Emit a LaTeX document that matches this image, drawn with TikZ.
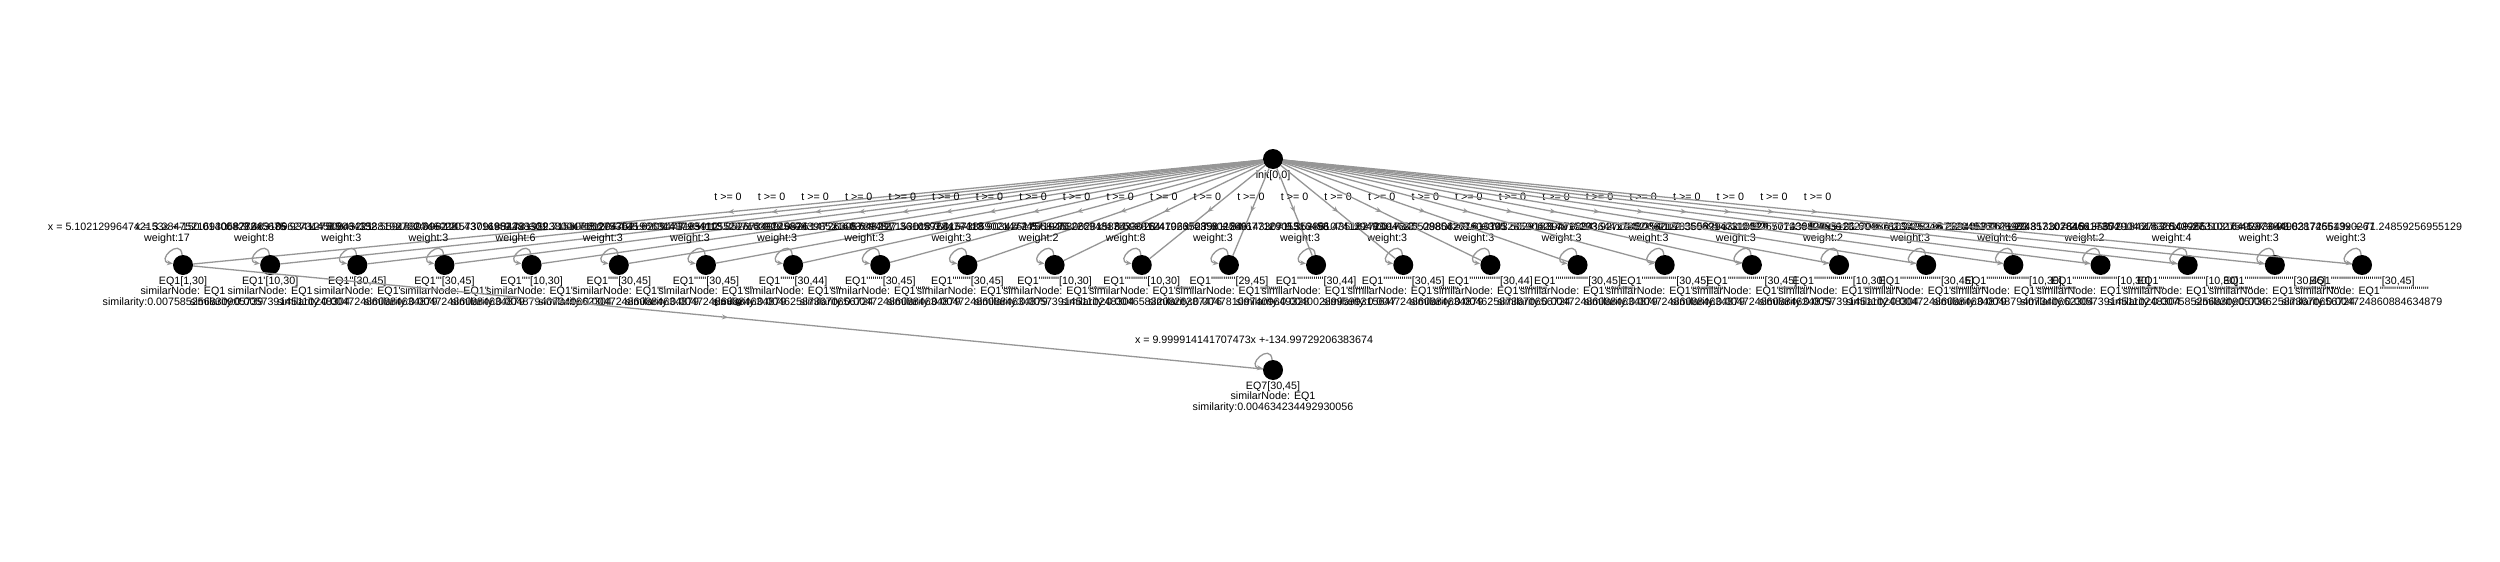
\documentclass[tikz,border=0pt]{standalone}
\usepackage{fontspec}
\setmainfont{Liberation Sans}
\usetikzlibrary{positioning,arrows.meta,decorations.markings}
\definecolor{edgegray}{RGB}{150,150,150}
\newcommand{\prm}[1]{\ifnum#1>0 \foreach \j in {1,...,#1}{\textquotesingle}\fi}
\tikzset{
  state/.style={circle,fill=black,minimum size=20pt,inner sep=0pt},
  lbl/.style={font=\fontsize{10.7}{10.7}\selectfont,align=center,inner sep=1pt},
  looplbl/.style={lbl,anchor=south,inner sep=0.5pt},
  tlbl/.style={font=\fontsize{10.7}{10.7}\selectfont,midway,yshift=15pt,inner sep=0pt},
  edgeline/.style={draw=edgegray,line width=1.3pt},
  midarrow/.style={postaction={decorate},decoration={markings,
    mark=at position 0.5 with {\arrow[edgegray]{Stealth[length=6pt,width=5pt]}}}},
  loopline/.style={edgeline,-{Stealth[length=6pt,width=5pt]},out=95,in=172,looseness=3,min distance=18pt}
}
\begin{document}
\begin{tikzpicture}[x=1pt,y=-1pt]
  \useasboundingbox (0,0) rectangle (2500,562);
  \node[state] (init) at (1273,159) {};
  \node[lbl,below=0pt of init] (linit) {init[0,0]};
  \foreach \i/\iv/\w/\eq/\sm in {
    0/{[1,30]}/17/{x = 5.102129964742153x +-150.01400828245675}/{0.007585256830905739},
    1/{[10,30]}/8/{x = 3.2847521693058776x +-86.93412750843221}/{0.005739145110248304},
    2/{[30,45]}/3/{x = 9.483109627314585x +-132.5591830746028}/{0.004724860884634879},
    3/{[30,45]}/3/{x = 8.906435881927304x +-120.43716952288301}/{0.004724860884634879},
    4/{[10,30]}/6/{x = 2.9962145730918844x +-29.71580361294752}/{0.004879407340662304},
    5/{[30,45]}/3/{x = 9.731952380047156x +-135.6209473185912}/{0.004724860884634879},
    6/{[30,45]}/3/{x = 8.275304196631487x +-113.85267349910526}/{0.004724860884634879},
    7/{[30,44]}/3/{x = 7.934105528716392x +-98.14726305739481}/{0.004625873670656724},
    8/{[30,45]}/3/{x = 9.125874398521603x +-127.36105928477413}/{0.004724860884634879},
    9/{[30,45]}/3/{x = 8.648297153018764x +-118.90342617558276}/{0.004724860884634879},
    10/{[10,30]}/2/{x = 3.0157386902147745x +-30.226948175330164}/{0.005739145110248304},
    11/{[10,30]}/8/{x = 2.8719453062815834x +-28.419267035811246}/{0.004658320826387476},
    12/{[29,45]}/3/{x = 6.593812470635289x +-84.67712905316458}/{0.004781097409649328},
    13/{[30,44]}/3/{x = 7.802569143307115x +-96.43518272094637}/{0.004002899599315647},
    14/{[30,45]}/3/{x = 9.352861074129493x +-131.08854267603395}/{0.004724860884634879},
    15/{[30,44]}/3/{x = 8.017346529803271x +-101.56291839470824}/{0.004625873670656724},
    16/{[30,45]}/3/{x = 9.610743285906214x +-133.9271548036219}/{0.004724860884634879},
    17/{[30,45]}/3/{x = 8.791520364417852x +-122.35069147318527}/{0.004724860884634879},
    18/{[30,45]}/3/{x = 9.254017836582943x +-129.77123640895126}/{0.004724860884634879},
    19/{[10,30]}/2/{x = 3.1194826507439827x +-31.60457813925248}/{0.005739145110248304},
    20/{[30,45]}/3/{x = 8.463915270836105x +-116.28940573126983}/{0.004724860884634879},
    21/{[10,30]}/6/{x = 2.9408136752049163x +-29.357102846617354}/{0.004879407340662304},
    22/{[10,30]}/2/{x = 3.0671924813307645x +-30.918427536109265}/{0.005739145110248304},
    23/{[10,30]}/4/{x = 2.8135672904618326x +-27.50316492873841}/{0.007585256830905739},
    24/{[30,45]}/3/{x = 7.542986310275419x +-93.02874651390267}/{0.004625873670656724},
    25/{[30,45]}/3/{x = 5.730449831725649x +-71.24859256955129}/{0.004724860884634879}} {
    \node[state] (q\i) at ({183+87.16*\i},265) {};
    \pgfmathtruncatemacro\sn{\i-1}
    \node[lbl,below=0pt of q\i] (l\i) {EQ1\prm{\i}\iv\\similarNode: EQ1\prm{\sn}\\similarity:\sm};
    \node[looplbl] (w\i) at ({183+87.16*\i-16},244) {\eq\\weight:\w};
    \draw[loopline] (q\i) to (q\i);
    \draw[edgeline,midarrow] (init) -- node[tlbl] {t >= 0} (q\i);
  }
  \node[state] (eq7) at (1273,370) {};
  \node[lbl,below=0pt of eq7] (leq7) {EQ7[30,45]\\similarNode: EQ1\\similarity:0.004634234492930056};
  \node[looplbl] (weq7) at (1254,344) {x = 9.999914141707473x +-134.99729206383674};
  \draw[loopline] (eq7) to (eq7);
  \draw[edgeline,midarrow] (q0) -- node[tlbl] {t >= 0} (eq7);
\end{tikzpicture}
\end{document}
